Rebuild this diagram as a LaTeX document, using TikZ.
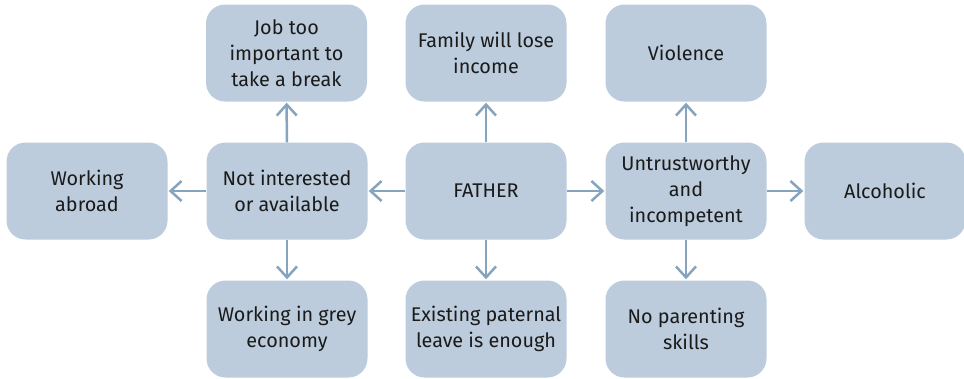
\documentclass[tikz,border=0pt]{standalone}
\usepackage{fontspec}
\setmainfont{Fira Sans}
\usetikzlibrary{arrows.meta}
\definecolor{boxfill}{HTML}{BCCCDC}
\definecolor{arrowc}{HTML}{87A4BF}
\definecolor{txt}{HTML}{1A1A1A}
\begin{document}
\begin{tikzpicture}[x=1pt,y=-1pt,
  box/.style={rectangle, rounded corners=19pt, fill=boxfill, minimum width=161pt, minimum height=97pt,
    align=center, text=txt, font=\fontsize{19.8}{26}\selectfont, inner sep=0pt},
  arr/.style={draw=arrowc, line width=2.5pt, -{Straight Barb[length=11pt,width=20pt,line width=2.5pt]}, shorten >=1pt}]
\useasboundingbox (0,0) rectangle (964,378);
\node[box] (job) at (286.5,53) {Job too\\important to\\take a break};
\node[box] (fam) at (486,53) {Family will lose\\income};
\node[box] (vio) at (686,53) {Violence};
\node[box] (abr) at (87,191) {Working\\abroad};
\node[box] (not) at (287,191) {Not interested\\or available};
\node[box] (fat) at (486,191) {FATHER};
\node[box] (unt) at (686,191) {Untrustworthy\\and\\incompetent};
\node[box] (alc) at (885,191) {Alcoholic};
\node[box] (grey) at (287,329) {Working in grey\\economy};
\node[box] (pat) at (486,329) {Existing paternal\\leave is enough};
\node[box] (par) at (686,329) {No parenting\\skills};
\draw[arr] (fat) -- (not);
\draw[arr] (not) -- (abr);
\draw[arr] (fat) -- (unt);
\draw[arr] (unt) -- (alc);
\draw[arr] (not) -- (job);
\draw[arr] (not) -- (grey);
\draw[arr] (fat) -- (fam);
\draw[arr] (fat) -- (pat);
\draw[arr] (unt) -- (vio);
\draw[arr] (unt) -- (par);
\end{tikzpicture}
\end{document}
